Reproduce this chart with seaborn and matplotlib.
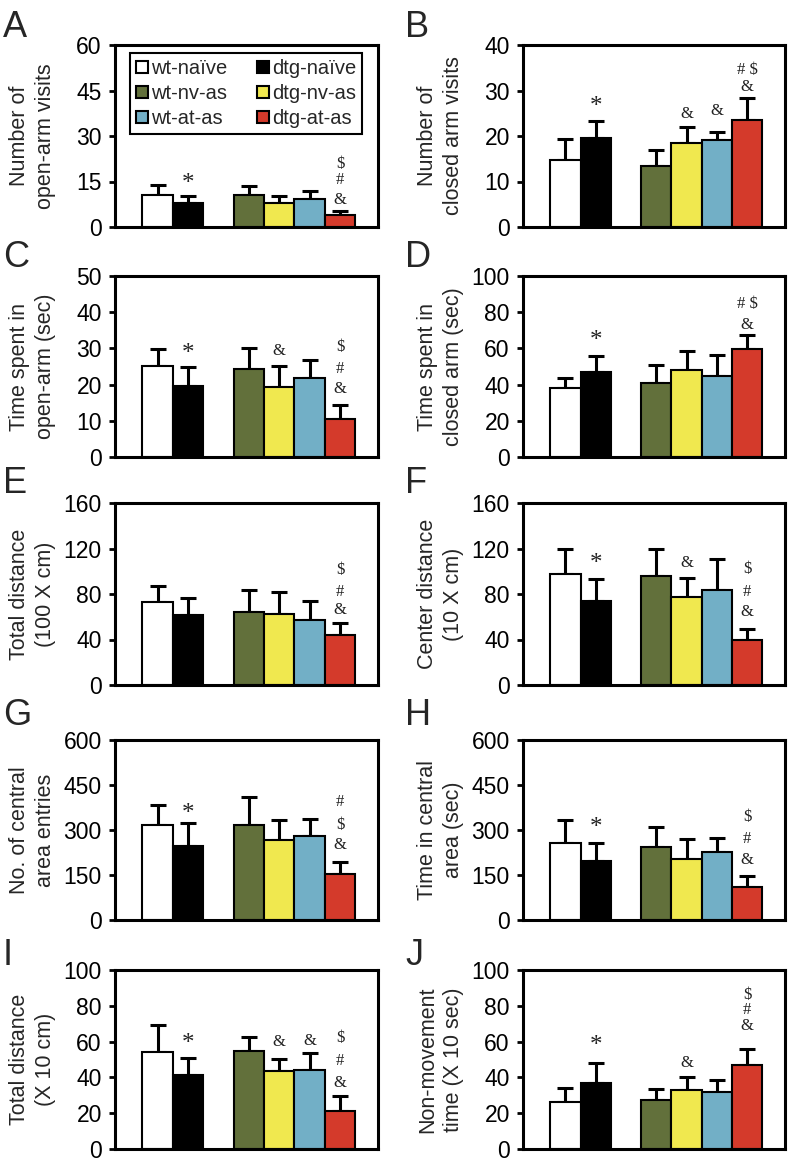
"""
Elevated plus maze / open field behaviour: ten bar panels (A-J).
"""

import matplotlib
matplotlib.use('Agg')

import matplotlib.pyplot as plt
from matplotlib.patches import Patch
import numpy as np
import pandas as pd
import seaborn as sns

sns.set_theme(style='white')
plt.rcParams['font.family'] = ['Liberation Sans', 'DejaVu Sans']

W, H = 791, 1162

# Groups and colours
GROUPS = ['wt-naïve', 'dtg-naïve', 'wt-nv-as', 'dtg-nv-as', 'wt-at-as', 'dtg-at-as']
COLORS = ['#ffffff', '#000000', '#62703b', '#f0e84f', '#72afc6', '#d43a2b']
ORDER = ['wt-naïve', 'dtg-naïve', ' ', 'wt-nv-as', 'dtg-nv-as', 'wt-at-as', 'dtg-at-as']

# Values (mean, SEM)
A_MEAN = [10.5, 8.0, 10.5, 7.9, 9.3, 3.9]
A_SEM = [3.3, 2.1, 3.0, 2.2, 2.5, 1.3]
B_MEAN = [14.7, 19.5, 13.3, 18.4, 19.1, 23.6]
B_SEM = [4.6, 3.8, 3.6, 3.5, 1.7, 4.7]
C_MEAN = [25.2, 19.7, 24.3, 19.3, 21.8, 10.6]
C_SEM = [4.6, 5.1, 5.8, 5.9, 5.0, 3.9]
D_MEAN = [38.0, 46.9, 41.1, 48.1, 45.0, 59.8]
D_SEM = [5.5, 9.0, 9.8, 10.6, 11.5, 7.6]
E_MEAN = [72.9, 61.1, 64.0, 62.0, 57.2, 44.0]
E_SEM = [13.8, 15.3, 19.2, 19.7, 16.6, 10.3]
F_MEAN = [97.5, 74.2, 96.0, 77.6, 83.8, 39.3]
F_SEM = [22.3, 18.8, 23.2, 16.4, 26.7, 10.1]
G_MEAN = [317.7, 246.0, 315.5, 267.6, 279.8, 153.8]
G_SEM = [64.3, 78.0, 94.5, 66.9, 58.0, 38.0]
H_MEAN = [257.8, 196.7, 244.4, 202.2, 227.8, 108.9]
H_SEM = [75.2, 58.9, 66.6, 66.7, 46.6, 37.8]
I_MEAN = [54.0, 41.6, 54.5, 43.5, 44.4, 21.4]
I_SEM = [15.1, 9.0, 8.1, 6.8, 9.0, 8.4]
J_MEAN = [26.2, 36.7, 27.2, 33.0, 32.1, 46.8]
J_SEM = [8.1, 11.4, 6.2, 7.4, 6.4, 8.8]

# Significance marks: (group, symbol, y)
A_MARKS = [('dtg-naïve', '*', 14.3), ('dtg-at-as', '$', 20.9),
           ('dtg-at-as', '#', 15.4), ('dtg-at-as', '&', 8.8)]
B_MARKS = [('dtg-naïve', '*', 26.3), ('dtg-nv-as', '&', 24.8), ('wt-at-as', '&', 25.6),
           ('dtg-at-as', '# $', 34.4), ('dtg-at-as', '&', 30.7)]
C_MARKS = [('dtg-naïve', '*', 28.4), ('dtg-nv-as', '&', 29.4), ('dtg-at-as', '$', 30.3),
           ('dtg-at-as', '#', 24.3), ('dtg-at-as', '&', 18.8)]
D_MARKS = [('dtg-naïve', '*', 63.9), ('dtg-at-as', '# $', 84.8), ('dtg-at-as', '&', 73.1)]
E_MARKS = [('dtg-at-as', '$', 100.9), ('dtg-at-as', '#', 81.7), ('dtg-at-as', '&', 65.5)]
F_MARKS = [('dtg-naïve', '*', 106.1), ('dtg-nv-as', '&', 107.6), ('dtg-at-as', '$', 101.8),
           ('dtg-at-as', '#', 81.4), ('dtg-at-as', '&', 64.0)]
G_MARKS = [('dtg-naïve', '*', 354.5), ('dtg-at-as', '#', 393.5),
           ('dtg-at-as', '$', 315.5), ('dtg-at-as', '&', 248.6)]
H_MARKS = [('dtg-naïve', '*', 305.6), ('dtg-at-as', '$', 344.4),
           ('dtg-at-as', '#', 270.0), ('dtg-at-as', '&', 200.0)]
I_MARKS = [('dtg-naïve', '*', 58.6), ('dtg-nv-as', '&', 59.5), ('wt-at-as', '&', 60.4),
           ('dtg-at-as', '$', 62.2), ('dtg-at-as', '#', 49.4), ('dtg-at-as', '&', 37.0)]
J_MARKS = [('dtg-naïve', '*', 57.8), ('dtg-nv-as', '&', 48.1), ('dtg-at-as', '$', 86.2),
           ('dtg-at-as', '#', 77.4), ('dtg-at-as', '&', 68.8)]

YLABELS = ['Number of\nopen-arm visits', 'Number of\nclosed arm visits',
           'Time spent in\nopen-arm (sec)', 'Time spent in\nclosed arm (sec)',
           'Total distance\n(100 X cm)', 'Center distance\n(10 X cm)',
           'No. of central\narea entries', 'Time in central\narea (sec)',
           'Total distance\n(X 10 cm)', 'Non-movement\ntime (X 10 sec)']
YTICKS = [[0, 15, 30, 45, 60], [0, 10, 20, 30, 40], [0, 10, 20, 30, 40, 50],
          [0, 20, 40, 60, 80, 100], [0, 40, 80, 120, 160], [0, 40, 80, 120, 160],
          [0, 150, 300, 450, 600], [0, 150, 300, 450, 600],
          [0, 20, 40, 60, 80, 100], [0, 20, 40, 60, 80, 100]]
LETTERS = list('ABCDEFGHIJ')

MEANS = [A_MEAN, B_MEAN, C_MEAN, D_MEAN, E_MEAN, F_MEAN, G_MEAN, H_MEAN, I_MEAN, J_MEAN]
SEMS = [A_SEM, B_SEM, C_SEM, D_SEM, E_SEM, F_SEM, G_SEM, H_SEM, I_SEM, J_SEM]
MARKS = [A_MARKS, B_MARKS, C_MARKS, D_MARKS, E_MARKS, F_MARKS, G_MARKS, H_MARKS, I_MARKS, J_MARKS]

# layout in pixels
COL_X = [(115, 263), (523, 262)]
ROW_Y = [(45, 227), (276, 457), (503, 685), (740, 920), (970, 1149)]
LETTER_BASE = [37, 267, 493, 725, 965]

palette = dict(zip(GROUPS, COLORS))
pos = [ORDER.index(g) for g in GROUPS]
serif = ['Liberation Serif', 'DejaVu Serif']

fig = plt.figure(figsize=(W / 100, H / 100), dpi=100)

for i in range(10):
    row, col = divmod(i, 2)
    x0, w = COL_X[col]
    top, bot = ROW_Y[row]
    ax = fig.add_axes([x0 / W, 1 - bot / H, w / W, (bot - top) / H])

    df = pd.DataFrame({'group': GROUPS, 'value': MEANS[i]})
    sns.barplot(data=df, x='group', y='value', hue='group', order=ORDER,
                hue_order=GROUPS, palette=palette, saturation=1, width=1.0,
                errorbar=None, edgecolor='black', linewidth=1.5, legend=False,
                ax=ax, zorder=2)
    ax.errorbar(pos, MEANS[i], yerr=[np.zeros(6), SEMS[i]], fmt='none',
                ecolor='black', elinewidth=2.2, capsize=5.5, capthick=2.2, zorder=1)

    for g, s, y in MARKS[i]:
        if s == '*':
            ax.text(ORDER.index(g), y, s, ha='center', va='center', fontsize=18,
                    family=serif, color='#222222')
        else:
            ax.text(ORDER.index(g), y, s, ha='center', va='center', fontsize=12,
                    family=serif, color='#222222')

    ticks = YTICKS[i]
    ax.set_ylim(0, ticks[-1])
    ax.set_yticks(ticks)
    ax.set_yticklabels([str(t) for t in ticks], fontsize=16.5)
    ax.set_xlim(-1.4, 7.25)
    ax.set_xticks([])
    ax.set_xlabel('')
    ax.set_ylabel(YLABELS[i], fontsize=15.5, linespacing=1.3)
    ax.yaxis.set_label_coords(-0.225, 0.5)
    ax.tick_params(axis='y', left=True, direction='out', length=4.5, width=2,
                   pad=5, colors='black')
    for sp in ax.spines.values():
        sp.set_visible(True)
        sp.set_color('black')
        sp.set_linewidth(2.2)

    lx = 3 if col == 0 else 405
    fig.text(lx / W, 1 - LETTER_BASE[row] / H, LETTERS[i], fontsize=26,
             ha='left', va='baseline')

    if i == 0:
        order_leg = GROUPS[0::2] + GROUPS[1::2]
        handles = [Patch(facecolor=palette[g], edgecolor='black', linewidth=1.5)
                   for g in order_leg]
        leg = ax.legend(handles, order_leg, ncol=2, loc='upper left',
                        bbox_to_anchor=(0.057, 0.956), borderaxespad=0,
                        fontsize=14.5, handlelength=0.6, handleheight=0.6,
                        handletextpad=0.15, columnspacing=1.45, labelspacing=0.3,
                        borderpad=0.3, fancybox=False, framealpha=1)
        leg.get_frame().set_edgecolor('black')
        leg.get_frame().set_linewidth(1.5)

fig.savefig('out.png', dpi=100)
